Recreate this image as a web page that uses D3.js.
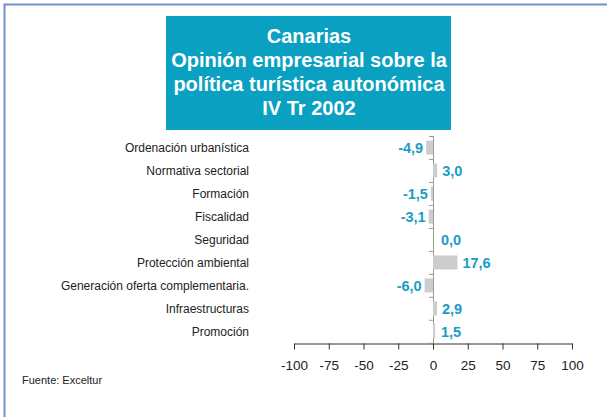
<!DOCTYPE html>
<html lang="es">
<meta charset="UTF-8">
<title>Canarias - Opinión empresarial</title>
<style>
body { margin: 0; background: #fff; }
svg { display: block; font-family: "Liberation Sans", Arial, sans-serif; }
</style>
<script src="https://d3js.org/d3.v7.min.js"></script>
<body>
<div id="my_dataviz"></div>
<script>

// data
var categories = ["Ordenación urbanística", "Normativa sectorial", "Formación", "Fiscalidad",
                  "Seguridad", "Protección ambiental", "Generación oferta complementaria.",
                  "Infraestructuras", "Promoción"];
var values = [-4.9, 3.0, -1.5, -3.1, 0.0, 17.6, -6.0, 2.9, 1.5];
var tickValues = [-100, -75, -50, -25, 0, 25, 50, 75, 100];
var titleLines = ["Canarias", "Opinión empresarial sobre la", "política turística autonómica", "IV Tr  2002"];
var source = "Fuente: Exceltur";

var W = 607, H = 417;
var svg = d3.select("#my_dataviz").append("svg")
    .attr("width", W).attr("height", H);

// frame (only top and left edges visible)
svg.append("path")
    .attr("d", "M4.5," + H + "V4.5H" + W)
    .attr("fill", "none").attr("stroke", "#6f93c2").attr("stroke-width", 2);

// title box
svg.append("rect").attr("x", 166).attr("y", 16).attr("width", 285).attr("height", 114)
    .attr("fill", "#0aa0c2");
svg.append("g").selectAll("text").data(titleLines).enter().append("text")
    .attr("x", 309).attr("y", function(d, i) { return 42.5 + i * 24; })
    .attr("text-anchor", "middle")
    .attr("fill", "#fff").attr("font-weight", "bold").attr("font-size", "20px")
    .text(function(d) { return d; });

// scales
var x = d3.scaleLinear().domain([-100, 100]).range([294, 572]);
var y = d3.scaleBand().domain(categories).range([136, 343]).paddingInner(0.39).paddingOuter(0.2);

// x axis
var xAxis = svg.append("g")
    .attr("transform", "translate(0,343.5)")
    .call(d3.axisBottom(x).tickValues(tickValues).tickFormat(function(d) { return String(d); })
        .tickSize(6).tickPadding(11).tickSizeOuter(0));
xAxis.select(".domain").attr("stroke", "#333");
xAxis.selectAll(".tick line").attr("stroke", "#333");
xAxis.selectAll("text").attr("font-size", "13.5px").attr("fill", "#222").attr("font-family", "Liberation Sans, Arial, sans-serif");

// y axis line at zero with small ticks at band boundaries
var yLine = svg.append("g");
yLine.append("line").attr("x1", x(0) + 0.5).attr("x2", x(0) + 0.5).attr("y1", 136).attr("y2", 343)
    .attr("stroke", "#999");
yLine.selectAll(".bt").data(d3.range(categories.length + 1)).enter().append("line")
    .attr("x1", x(0) - 4).attr("x2", x(0))
    .attr("y1", function(d) { return 136 + d * y.step() + 0.5; })
    .attr("y2", function(d) { return 136 + d * y.step() + 0.5; })
    .attr("stroke", "#999");

// bars
svg.selectAll(".bar").data(values).enter().append("rect")
    .attr("x", function(d) { return x(Math.min(0, d)); })
    .attr("y", function(d, i) { return y(categories[i]); })
    .attr("width", function(d) { return Math.abs(x(d) - x(0)); })
    .attr("height", y.bandwidth())
    .attr("fill", "#cdcdcd");

// category labels
svg.selectAll(".cat").data(categories).enter().append("text")
    .attr("x", 249)
    .attr("y", function(d) { return y(d) + y.bandwidth() / 2; })
    .attr("dy", "0.35em").attr("text-anchor", "end")
    .attr("font-size", "12px").attr("fill", "#222")
    .text(function(d) { return d; });

// value labels
var fmt = function(v) { return v.toFixed(1).replace(".", ","); };
svg.selectAll(".val").data(values).enter().append("text")
    .attr("x", function(d) { return d < 0 ? x(d) - 3 : Math.max(x(d), x(0) + 3) + 5; })
    .attr("y", function(d, i) { return y(categories[i]) + y.bandwidth() / 2; })
    .attr("dy", "0.36em")
    .attr("text-anchor", function(d) { return d < 0 ? "end" : "start"; })
    .attr("font-size", "14.5px").attr("font-weight", "bold").attr("fill", "#1a9cc4")
    .text(fmt);

// source
svg.append("text").attr("x", 22).attr("y", 384)
    .attr("font-size", "11px").attr("fill", "#222").text(source);

</script>
</body>
</html>
